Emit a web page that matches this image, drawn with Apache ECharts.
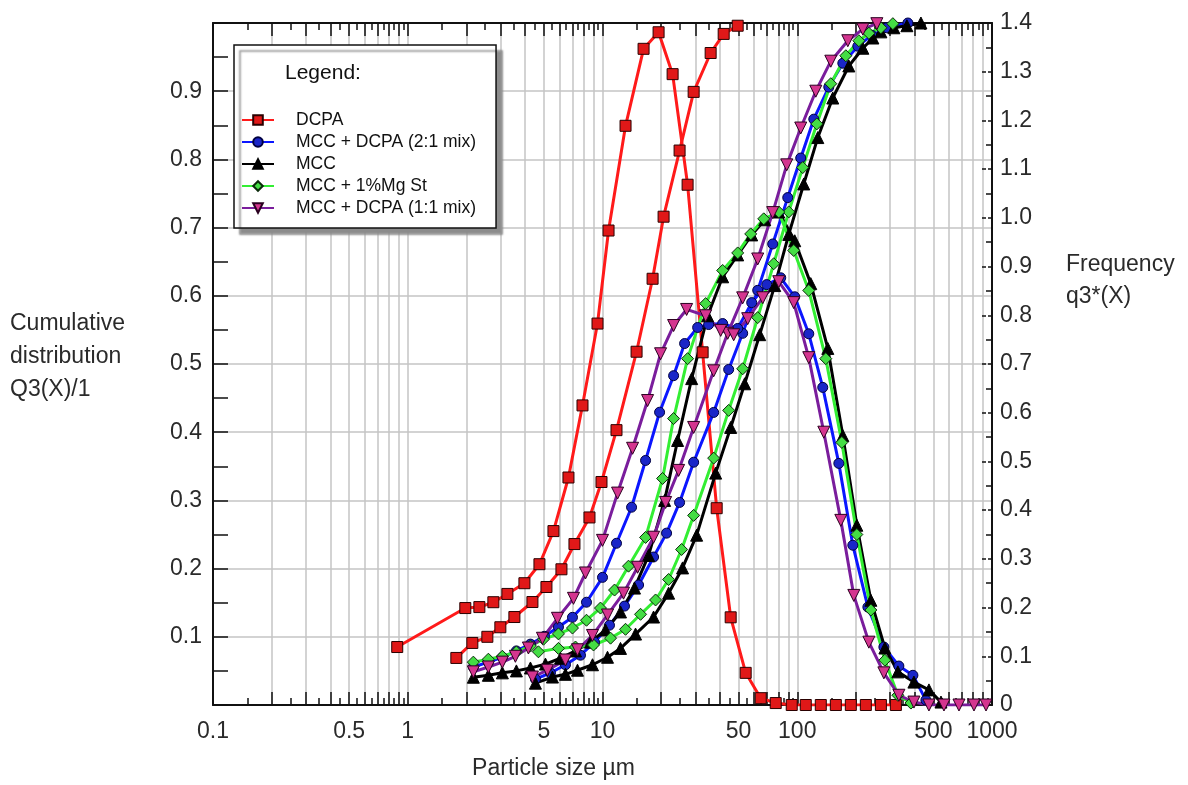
<!DOCTYPE html>
<html>
<head>
<meta charset="utf-8">
<title>Particle size distribution</title>
<script src="https://cdn.jsdelivr.net/npm/echarts@6/dist/echarts.min.js"></script>
<style>
  html, body { margin: 0; padding: 0; background: #fff; }
  #chart { width: 1188px; height: 785px; }
</style>
</head>
<body>
<div id="chart"></div>
<script>
// [particle size µm, value]; *Cum -> Q3(x) on the left axis, *Freq -> q3*(x) on the right axis
const dcpaCum = [[1.776,0.069],[2.146,0.091],[2.563,0.100],[2.989,0.114],[3.528,0.129],[4.367,0.151],[5.154,0.173],[6.155,0.199],[7.178,0.236],[8.575,0.275],[9.882,0.327],[11.80,0.403],[14.96,0.518],[18.08,0.625],[20.59,0.716],[24.88,0.813],[29.38,0.899],[35.92,0.956],[41.90,0.984],[49.45,0.996]];
const dcpaFreq = [[0.883,0.119],[1.975,0.199],[2.332,0.201],[2.752,0.211],[3.248,0.228],[3.972,0.250],[4.745,0.289],[5.600,0.357],[6.687,0.467],[7.893,0.615],[9.426,0.783],[10.74,0.974],[13.13,1.189],[16.25,1.347],[19.41,1.381],[22.91,1.295],[27.35,1.068],[32.67,0.724],[38.57,0.404],[45.52,0.180],[54.35,0.066],[64.93,0.014],[77.53,0.004],[93.70,0],[110.6,0],[132.1,0],[157.8,0],[188.4,0],[225.0,0],[268.8,0],[320.9,0]];

const mix21Cum = [[4.525,0.038],[5.403,0.047],[6.454,0.059],[7.707,0.073],[9.099,0.092],[10.86,0.117],[12.97,0.145],[15.32,0.176],[18.29,0.217],[21.33,0.252],[24.88,0.297],[29.38,0.356],[37.22,0.429],[44.45,0.492],[52.46,0.545],[62.66,0.608],[74.82,0.676],[89.38,0.744],[104.2,0.802],[121.6,0.859],[145.2,0.906],[171.4,0.941],[204.7,0.966],[241.6,0.982],[288.6,0.993],[370.0,1.000]];
const mix21Freq = [[2.172,0.078],[2.594,0.088],[3.061,0.098],[3.613,0.111],[4.265,0.125],[5.034,0.141],[5.941,0.160],[7.012,0.180],[8.275,0.211],[10.0,0.262],[11.80,0.332],[14.10,0.406],[16.64,0.502],[19.64,0.601],[23.18,0.676],[26.40,0.742],[30.80,0.775],[35.08,0.781],[41.40,0.783],[49.45,0.773],[58.36,0.826],[69.71,0.863],[82.27,0.877],[97.08,0.838],[114.6,0.762],[135.2,0.652],[163.5,0.496],[192.9,0.328],[230.5,0.201],[278.5,0.119],[332.5,0.080],[392.6,0.061],[457.8,0.010]];

const mccCum = [[4.525,0.032],[5.533,0.041],[6.454,0.045],[7.439,0.051],[8.885,0.059],[10.61,0.070],[12.37,0.083],[14.78,0.104],[18.29,0.129],[21.85,0.164],[25.77,0.201],[30.44,0.249],[38.11,0.340],[45.52,0.407],[53.71,0.471],[64.16,0.543],[76.62,0.615],[90.44,0.690],[108.0,0.764],[127.5,0.832],[152.2,0.890],[184.0,0.937],[217.2,0.963],[244.5,0.978],[268.8,0.987],[313.4,0.993],[365.6,0.996],[431.5,1.000]];
const mccFreq = [[2.172,0.057],[2.594,0.061],[3.061,0.066],[3.613,0.070],[4.265,0.076],[5.094,0.084],[6.083,0.096],[7.265,0.111],[8.677,0.129],[10.36,0.154],[12.37,0.191],[14.60,0.240],[17.24,0.307],[20.84,0.420],[24.30,0.543],[28.70,0.670],[34.67,0.799],[41.40,0.879],[49.45,0.924],[58.36,0.965],[68.08,0.996],[80.35,1.012],[97.08,0.953],[117.3,0.865],[143.5,0.732],[171.4,0.553],[202.3,0.369],[238.8,0.215],[281.8,0.117],[328.6,0.068],[397.2,0.047],[474.4,0.031],[547.0,0.006]];

const mgstCum = [[4.688,0.078],[5.941,0.083],[7.265,0.085],[8.991,0.088],[11.00,0.098],[13.13,0.111],[15.68,0.133],[18.73,0.154],[21.85,0.184],[25.48,0.228],[29.38,0.278],[37.22,0.362],[44.45,0.432],[52.46,0.493],[62.66,0.568],[75.72,0.647],[90.44,0.723],[106.7,0.788],[126.0,0.852],[148.7,0.911],[177.6,0.952],[207.2,0.974],[233.2,0.985],[268.8,0.993],[309.7,0.999]];
const mgstFreq = [[2.172,0.088],[2.594,0.094],[3.061,0.100],[3.613,0.109],[4.265,0.121],[4.975,0.135],[5.941,0.146],[7.012,0.158],[8.275,0.174],[9.765,0.199],[11.53,0.236],[13.60,0.285],[16.64,0.344],[20.35,0.465],[23.18,0.588],[27.35,0.711],[33.86,0.824],[41.40,0.892],[49.45,0.928],[57.68,0.967],[67.28,0.998],[80.35,1.012],[95.94,0.933],[114.6,0.851],[140.1,0.711],[169.4,0.539],[202.3,0.350],[238.8,0.195],[281.8,0.092],[328.6,0.020],[383.4,0.004]];

const mix11Cum = [[4.367,0.041],[5.215,0.051],[6.454,0.066],[7.439,0.081],[8.885,0.102],[10.61,0.132],[12.82,0.164],[15.14,0.202],[18.29,0.246],[21.09,0.297],[24.59,0.344],[29.38,0.407],[37.22,0.490],[43.93,0.545],[52.46,0.597],[62.66,0.654],[74.82,0.722],[88.32,0.792],[104.2,0.846],[124.5,0.900],[148.7,0.944],[181.8,0.974],[217.2,0.991],[256.3,0.999]];
const mix11Freq = [[2.172,0.068],[2.594,0.078],[3.061,0.088],[3.570,0.100],[4.165,0.117],[4.916,0.137],[5.871,0.178],[7.095,0.219],[8.178,0.271],[10.0,0.338],[11.95,0.435],[14.27,0.527],[17.04,0.625],[19.87,0.721],[23.18,0.779],[27.03,0.812],[33.86,0.799],[40.44,0.769],[47.17,0.760],[55.66,0.793],[66.48,0.836],[80.35,0.869],[95.94,0.826],[114.6,0.713],[136.9,0.560],[167.4,0.379],[195.2,0.225],[233.2,0.129],[278.5,0.066],[332.5,0.020],[397.2,0.006],[474.4,0],[566.7,0],[676.7,0],[808.1,0],[931.6,0]];

const names = ['DCPA', 'MCC + DCPA (2:1 mix)', 'MCC', 'MCC + 1%Mg St', 'MCC + DCPA (1:1 mix)'];
const xLabels = [0.1, 0.5, 1, 5, 10, 50, 100, 500, 1000];
const decades = [0.1, 1, 10, 100];

// tick positions on the log axis: 1..9 per decade, half steps as small ticks
const majorTicks = decades.flatMap(d => [1,2,3,4,5,6,7,8,9].map(k => +(k * d).toPrecision(3))).concat([1000]);
const minorTicks = decades.flatMap(d => [1.5,2.5,3.5,4.5,5.5,6.5,7.5,8.5,9.5].map(k => +(k * d).toPrecision(3)));

const font = 'Liberation Sans, Arial, sans-serif';
const ink = '#111';
const textColor = '#2a2a2a';
const gridColor = '#c4c4c4';

const looks = {
  'DCPA': { symbol: 'rect', size: 11, line: '#ff1a1a', fill: '#e01818', border: '#2a0000' },
  'MCC + DCPA (2:1 mix)': { symbol: 'circle', size: 10, line: '#0b16ff', fill: '#1a26c8', border: '#000040' },
  'MCC': { symbol: 'triangle', size: 12, line: '#000', fill: '#000', border: '#000' },
  'MCC + 1%Mg St': { symbol: 'diamond', size: 12, line: '#33ee33', fill: '#44dd44', border: '#0a2a0a' },
  'MCC + DCPA (1:1 mix)': { symbol: 'triangle', size: 12, rotate: 180, line: '#7a1d9c', fill: '#d4358f', border: '#2a0020' }
};

function curve(name, data, yAxisIndex) {
  const look = looks[name];
  return {
    name: name,
    type: 'line',
    xAxisIndex: 0,
    yAxisIndex: yAxisIndex,
    data: data,
    symbol: look.symbol,
    symbolSize: look.size,
    symbolRotate: look.rotate || 0,
    lineStyle: { color: look.line, width: 3 },
    itemStyle: { color: look.fill, borderColor: look.border, borderWidth: 1 },
    emphasis: { disabled: true }
  };
}

const tickAxis = (position, ticks, length) => ({
  type: 'log', logBase: 10, min: 0.1, max: 1000, position: position,
  axisLine: { show: false, onZero: false },
  axisTick: { show: true, inside: true, length: length, customValues: ticks, lineStyle: { color: ink, width: 1.5 } },
  axisLabel: { show: false },
  splitLine: { show: false }
});

const chart = echarts.init(document.getElementById('chart'));

chart.setOption({
  animation: false,
  backgroundColor: '#fff',
  textStyle: { fontFamily: font },
  grid: { left: 213, right: 196, top: 23, bottom: 80, containLabel: false, outerBoundsMode: 'none' },
  legend: {
    data: names,
    orient: 'vertical',
    left: 234,
    top: 45,
    padding: [66, 20, 11, 7],
    itemWidth: 32,
    itemHeight: 12,
    itemGap: 4,
    backgroundColor: '#fff',
    borderColor: ink,
    borderWidth: 1.5,
    shadowColor: '#8c8c8c',
    shadowBlur: 2,
    shadowOffsetX: 6,
    shadowOffsetY: 6,
    textStyle: { fontFamily: font, fontSize: 17.5, color: ink, lineHeight: 16, padding: [0, 0, 0, 17] }
  },
  graphic: [
    {
      type: 'text', left: 285, top: 63, z: 100,
      style: { text: 'Legend:', fontFamily: font, fontSize: 21, fill: ink }
    },
    {
      type: 'text', left: 10, top: 307,
      style: { text: 'Cumulative\ndistribution\nQ3(X)/1', fontFamily: font, fontSize: 23, lineHeight: 33, fill: textColor }
    },
    {
      type: 'text', left: 1066, top: 249,
      style: { text: 'Frequency\nq3*(X)', fontFamily: font, fontSize: 23, lineHeight: 32, fill: textColor }
    }
  ],
  xAxis: [
    {
      type: 'log', logBase: 10, min: 0.1, max: 1000, position: 'bottom',
      axisLine: { show: true, onZero: false, lineStyle: { color: ink, width: 2 } },
      axisTick: { show: true, inside: true, length: 13, customValues: majorTicks, lineStyle: { color: ink, width: 1.5 } },
      axisLabel: {
        customValues: xLabels, margin: 15, fontSize: 23, color: textColor, fontFamily: font,
        formatter: v => String(+(+v).toPrecision(3))
      },
      splitLine: { show: true, lineStyle: { color: gridColor, width: 1.5 } },
      name: 'Particle size µm',
      nameLocation: 'middle',
      nameGap: 52,
      nameTextStyle: { fontFamily: font, fontSize: 23, color: textColor, padding: [0, 98, 0, 0] }
    },
    tickAxis('bottom', minorTicks, 7),
    Object.assign(tickAxis('top', majorTicks, 13), { axisLine: { show: true, onZero: false, lineStyle: { color: ink, width: 2 } } }),
    tickAxis('top', minorTicks, 7)
  ],
  yAxis: [
    {
      type: 'value', min: 0, max: 1, interval: 0.1, position: 'left',
      axisLine: { show: true, onZero: false, lineStyle: { color: ink, width: 2 } },
      axisTick: { show: true, inside: true, length: 15, lineStyle: { color: ink, width: 1.5 } },
      minorTick: { show: true, splitNumber: 2, length: 15, lineStyle: { color: ink, width: 1.5 } },
      axisLabel: {
        margin: 11, fontSize: 23, color: textColor, fontFamily: font,
        formatter: v => (v > 0.01 && v < 0.99) ? v.toFixed(1) : ''
      },
      splitLine: { show: true, lineStyle: { color: gridColor, width: 1.5 } }
    },
    {
      type: 'value', min: 0, max: 1.4, interval: 0.1, position: 'right',
      axisLine: { show: true, onZero: false, lineStyle: { color: ink, width: 2 } },
      axisTick: { show: true, inside: true, length: 12, lineStyle: { color: ink, width: 1.5, type: [4, 2] } },
      minorTick: { show: true, splitNumber: 2, length: 6, lineStyle: { color: ink, width: 1.5 } },
      axisLabel: {
        margin: 8, fontSize: 23, color: textColor, fontFamily: font,
        formatter: v => v < 0.01 ? '0' : v.toFixed(1)
      },
      splitLine: { show: false }
    }
  ],
  series: [
    curve('DCPA', dcpaCum, 0),
    curve('DCPA', dcpaFreq, 1),
    curve('MCC + DCPA (2:1 mix)', mix21Cum, 0),
    curve('MCC + DCPA (2:1 mix)', mix21Freq, 1),
    curve('MCC', mccCum, 0),
    curve('MCC', mccFreq, 1),
    curve('MCC + 1%Mg St', mgstCum, 0),
    curve('MCC + 1%Mg St', mgstFreq, 1),
    curve('MCC + DCPA (1:1 mix)', mix11Cum, 0),
    curve('MCC + DCPA (1:1 mix)', mix11Freq, 1)
  ]
});
</script>
</body>
</html>
